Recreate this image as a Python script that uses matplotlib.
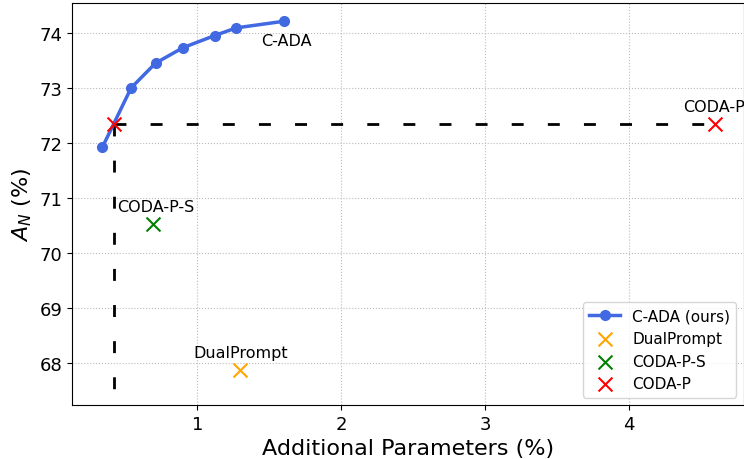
import matplotlib.pyplot as plt

# C-ADA curve
cada_params = [0.34, 0.54, 0.71, 0.90, 1.12, 1.27, 1.60]
cada_acc = [71.93, 73.01, 73.46, 73.74, 73.96, 74.10, 74.22]

# baselines
dual_params, dual_acc = 1.30, 67.88
codas_params, codas_acc = 0.69, 70.53
codap_params, codap_acc = 4.60, 72.36
# matching point on the C-ADA curve
match_params, match_acc = 0.42, 72.36


def main():
    fig = plt.figure(figsize=(7.44, 4.6), dpi=100)
    ax = fig.add_axes([0.097, 0.117, 0.903, 0.874])

    ax.plot(cada_params, cada_acc, "-o", color="royalblue", lw=2.5, ms=7,
            label="C-ADA (ours)", zorder=3)
    ax.scatter(dual_params, dual_acc, marker="x", color="orange", s=100,
               label="DualPrompt", zorder=4)
    ax.scatter(codas_params, codas_acc, marker="x", color="green", s=100,
               label="CODA-P-S", zorder=4)
    ax.scatter(codap_params, codap_acc, marker="x", color="red", s=100,
               label="CODA-P", zorder=4)
    ax.scatter(match_params, match_acc, marker="x", color="red", s=100, zorder=4)

    ax.plot([match_params, codap_params], [match_acc, codap_acc], "k--",
            lw=2, dashes=(4.3, 8.7), zorder=2)
    ax.plot([match_params, match_params], [match_acc, 67.5], "k--",
            lw=2, dashes=(4.3, 8.7), zorder=2)

    ax.text(1.44, 73.87, "C-ADA", fontsize=11.5, va="center")
    ax.text(4.38, 72.67, "CODA-P", fontsize=11.5, va="center")
    ax.text(0.44, 70.85, "CODA-P-S", fontsize=11.5, va="center")
    ax.text(0.97, 68.19, "DualPrompt", fontsize=11.5, va="center")

    ax.set_xlim(0.13, 4.8)
    ax.set_ylim(67.24, 74.55)
    ax.set_xticks([1, 2, 3, 4])
    ax.set_yticks([68, 69, 70, 71, 72, 73, 74])
    ax.tick_params(labelsize=13)
    ax.grid(True, ls=":", color="#bbbbbb", lw=0.8)
    ax.set_xlabel("Additional Parameters (%)", fontsize=16)
    ax.set_ylabel("$A_N$ (%)", fontsize=16)
    ax.legend(loc="lower right", fontsize=11)

    plt.savefig("out.png", dpi=100)


if __name__ == "__main__":
    main()
